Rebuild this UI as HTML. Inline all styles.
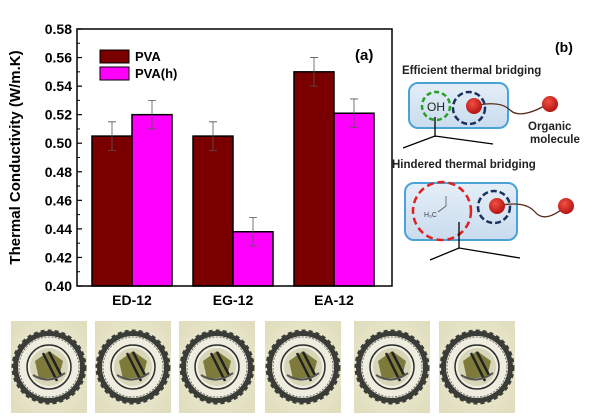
<!DOCTYPE html>
<html><head><meta charset="utf-8"><style>
body{margin:0;background:#fff;}
svg{display:block;font-family:"Liberation Sans",Arial,sans-serif;}
</style></head><body>
<svg id="c" width="600" height="420" viewBox="0 0 600 420">
<defs>
<linearGradient id="bx" x1="0" y1="0" x2="0" y2="1"><stop offset="0" stop-color="#e4eef8"/><stop offset="1" stop-color="#c9dcee"/></linearGradient>
<radialGradient id="ball" cx="0.4" cy="0.35" r="0.7"><stop offset="0" stop-color="#f05040"/><stop offset="1" stop-color="#b01010"/></radialGradient>
<radialGradient id="photo" cx="0.5" cy="0.5" r="0.7"><stop offset="0" stop-color="#efeed8"/><stop offset="1" stop-color="#e0dcbc"/></radialGradient>
<g id="seal">
<rect x="-38" y="-46" width="76" height="92" fill="url(#photo)"/>
<circle r="36" fill="#3a3c38" stroke="#3a3c38" stroke-width="3" stroke-dasharray="4,3"/>
<circle r="31" fill="#eeeddf"/>
<circle r="30" fill="none" stroke="#55574c" stroke-width="0.8" stroke-dasharray="2,1.5"/>
<circle r="22" fill="none" stroke="#2b2e2c" stroke-width="1.5"/>
<circle r="19" fill="#d8d6b8"/>
<path d="M-14 -6 L0 -16 L14 -6 L10 10 L-10 12 Z" fill="#7d7a3c"/>
<path d="M-6 -14 L8 14 M0 -15 L12 8" stroke="#222" stroke-width="2.5"/>
<path d="M-16 8 Q0 18 16 6" stroke="#555" stroke-width="2" fill="none"/>
</g>
</defs>
<g id="chart"></g>

<g>
<text x="555" y="52" font-size="14" font-weight="bold">(b)</text>
<text x="402" y="74" font-size="11.5" font-weight="bold" fill="#222">Efficient thermal bridging</text>
<rect x="409" y="83" width="99" height="45" rx="9" fill="url(#bx)" stroke="#4aa3d6" stroke-width="2"/>
<line x1="435" y1="117" x2="435" y2="137" stroke="#000" stroke-width="1.3"/>
<polyline points="403,148 435,136 493,144" fill="none" stroke="#000" stroke-width="1.3"/>
<circle cx="436" cy="106" r="14" fill="none" stroke="#2aa02a" stroke-width="2.5" stroke-dasharray="5,3"/>
<text x="427" y="111" font-size="12" fill="#222">OH</text>
<circle cx="469" cy="108" r="16" fill="none" stroke="#1a2f60" stroke-width="2.5" stroke-dasharray="6,3"/>
<path d="M474 106 Q500 100 510 110 T548 104" fill="none" stroke="#5a2a1a" stroke-width="1.3"/>
<circle cx="474" cy="106" r="8" fill="url(#ball)"/>
<circle cx="550" cy="104" r="8" fill="url(#ball)"/>
<text x="528" y="130" font-size="11.5" font-weight="bold" fill="#222">Organic</text>
<text x="530" y="143" font-size="11.5" font-weight="bold" fill="#222">molecule</text>
<text x="392" y="168" font-size="11.5" font-weight="bold" fill="#222">Hindered thermal bridging</text>
<rect x="405" y="183" width="112" height="57" rx="9" fill="url(#bx)" stroke="#4aa3d6" stroke-width="2"/>
<ellipse cx="442" cy="211" rx="29" ry="29" fill="none" stroke="#e02020" stroke-width="2.5" stroke-dasharray="7,4"/>
<text x="424" y="217" font-size="7" fill="#444">H₃C</text>
<polyline points="438,212 446,206 446,196 M446,206 456,211 460,220" fill="none" stroke="#555" stroke-width="0.8"/>
<line x1="459" y1="222" x2="459" y2="248" stroke="#000" stroke-width="1.3"/>
<polyline points="430,260 459,248 520,258" fill="none" stroke="#000" stroke-width="1.3"/>
<circle cx="494" cy="207" r="16" fill="none" stroke="#1a2f60" stroke-width="2.5" stroke-dasharray="6,3"/>
<path d="M497 206 Q525 200 535 212 T566 206" fill="none" stroke="#5a2a1a" stroke-width="1.3"/>
<circle cx="497" cy="206" r="8" fill="url(#ball)"/>
<circle cx="566" cy="206" r="8" fill="url(#ball)"/>
</g>

<g>
<use href="#seal" x="49" y="367"/>
<use href="#seal" x="133" y="367"/>
<use href="#seal" x="217" y="367"/>
<use href="#seal" x="303" y="367"/>
<use href="#seal" x="392" y="367"/>
<use href="#seal" x="477" y="367"/>
</g>
</svg>
<script>
const categories = ["ED-12","EG-12","EA-12"];
const pvaValues = [0.505, 0.505, 0.550];
const pvahValues = [0.520, 0.438, 0.521];
const pvaErr = [0.010, 0.010, 0.010];
const pvahErr = [0.010, 0.010, 0.010];
const yTicks = ["0.40","0.42","0.44","0.46","0.48","0.50","0.52","0.54","0.56","0.58"];

const NS="http://www.w3.org/2000/svg";
const g=document.getElementById('chart');
const L=77,R=392,T=29,B=286,yMin=0.40,yMax=0.58;
const y=v=>B-(v-yMin)/(yMax-yMin)*(B-T);
const xc=i=>132+101*i;
const bw=40;
function mk(t,a,p){const e=document.createElementNS(NS,t);for(const k in a)e.setAttribute(k,a[k]);(p||g).appendChild(e);return e;}

function bars(vals,errs,off,fill,name){
  vals.forEach((v,i)=>{
    const x=xc(i)+off;
    const r=mk('rect',{x:x,y:y(v),width:bw,height:B-y(v),fill:fill,stroke:'#000','stroke-width':1.5});
    
    
    const cx=x+bw/2;
    const e=mk('path',{d:`M${cx} ${y(v-errs[i])}V${y(v+errs[i])}M${cx-4} ${y(v+errs[i])}H${cx+4}M${cx-4} ${y(v-errs[i])}H${cx+4}`,stroke:'#555','stroke-width':0.8,fill:'none'});
    
    
  });
}
bars(pvaValues,pvaErr,-bw,'#7a0000','pva');
bars(pvahValues,pvahErr,0,'#ff00ff','pvah');

const fr=mk('rect',{x:L,y:T,width:R-L,height:B-T,fill:'none',stroke:'#000','stroke-width':1.5});



yTicks.forEach((t,k)=>{
  const v=parseFloat(t),yy=y(v);
  mk('line',{x1:L,x2:L+5,y1:yy,y2:yy,stroke:'#000','stroke-width':1.2});
  if(k<yTicks.length-1) mk('line',{x1:L,x2:L+3,y1:yy-(B-T)/18,y2:yy-(B-T)/18,stroke:'#000','stroke-width':1});
  const tx=mk('text',{x:L-5,y:yy+5,'text-anchor':'end','font-size':14,'font-weight':'bold'});
  tx.textContent=t;
  
  
});
categories.forEach((c,i)=>{
  mk('line',{x1:xc(i),x2:xc(i),y1:B,y2:B-5,stroke:'#000','stroke-width':1.2});
  const tx=mk('text',{x:xc(i),y:B+19,'text-anchor':'middle','font-size':14,'font-weight':'bold'});
  tx.textContent=c;
  
  
});
const yt=mk('text',{x:0,y:0,transform:`translate(20,${(T+B)/2}) rotate(-90)`,'text-anchor':'middle','font-size':15,'font-weight':'bold'});
yt.textContent='Thermal Conductivity (W/m.K)';



const pa=mk('text',{x:355,y:60,'font-size':15,'font-weight':'bold'});
pa.textContent='(a)';



[["PVA","#7a0000",50],["PVA(h)","#ff00ff",67]].forEach(([n,c,yy])=>{
  const b=mk('rect',{x:100,y:yy,width:29,height:13,fill:c,stroke:'#000','stroke-width':1});
  
  
  const t=mk('text',{x:135,y:yy+11,'font-size':13,'font-weight':'bold'});
  t.textContent=n;
  
  
});
</script>
</body></html>
